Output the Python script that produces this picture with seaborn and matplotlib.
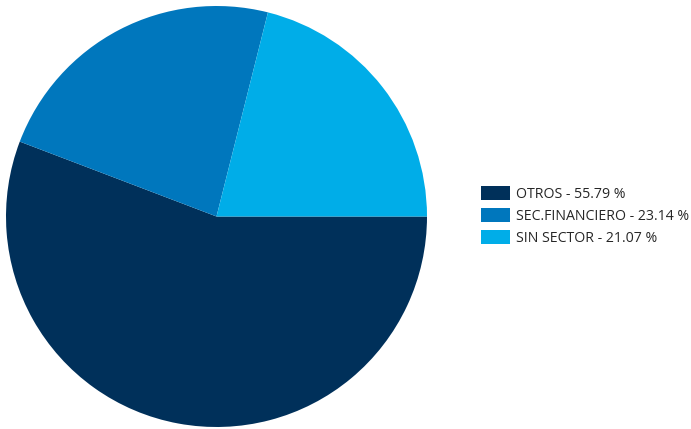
import matplotlib
matplotlib.use('Agg')
import matplotlib.pyplot as plt
import seaborn as sns

# Datos del gráfico
sectores = ['OTROS', 'SEC.FINANCIERO', 'SIN SECTOR']
porcentajes = [55.79, 23.14, 21.07]
colores = ['#00305A', '#0077BD', '#00ADE8']

sns.set_style('white')
plt.rcParams['font.family'] = ['Open Sans', 'DejaVu Sans']

W, H = 691, 429
fig = plt.figure(figsize=(W / 100, H / 100), dpi=100)

# Ejes del pastel en coordenadas de píxel
cx, cy, r = 216.5, 216.5, 210.5
ax = fig.add_axes([(cx - r) / W, (H - cy - r) / H, 2 * r / W, 2 * r / H])
wedges, _ = ax.pie(porcentajes, colors=colores, startangle=0, counterclock=False,
                   radius=1, wedgeprops=dict(linewidth=0))
ax.set_xlim(-1, 1)
ax.set_ylim(-1, 1)
ax.set_aspect('equal')
ax.axis('off')

etiquetas = [f'{s} - {p:.2f} %' for s, p in zip(sectores, porcentajes)]
fig.legend(wedges, etiquetas, loc='center left',
           bbox_to_anchor=(481 / W, 1 - 216 / H), frameon=False,
           fontsize=10.2, handlelength=2.05, handleheight=1.15,
           handletextpad=0.42, labelspacing=0.42, borderpad=0,
           borderaxespad=0)

fig.savefig('out.png', dpi=100)
